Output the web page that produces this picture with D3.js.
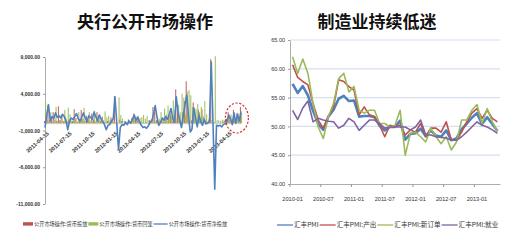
<!DOCTYPE html>
<html>
<head>
<meta charset="utf-8">
<script src="https://cdn.jsdelivr.net/npm/d3@7"></script>
<style>
  body { margin: 0; background: #fff; }
  svg { display: block; }
  text { font-family: "Liberation Sans", Arial, sans-serif; fill: #333; }
  .title { font-family: "Noto Sans CJK SC", sans-serif; font-weight: bold; font-size: 17px; fill: #111; }
  .legend text { font-family: "Noto Sans CJK SC", sans-serif; }
</style>
</head>
<body>
<svg id="chart" width="510" height="241"></svg>
<script>
// ---- left chart: weekly open market operations (亿元), first week 2011-04-15
const omoStart = "2011-04-15";
const omoInjection = [
  300, 800, 2500, 400, 600, 1500, 500, 300, 2300, 400, 1000, 300, 800, 200, 400, 600, 300, 1900, 700, 200,
  500, 1800, 600, 300, 1000, 400, 300, 1300, 500, 200, 1500, 400, 300, 900, 200, 100, 300, 200, 800,
  600, 3700, 0, 0, 500, 300,
  0, 300, 0, 500, 0, 700, 1300, 500, 900, 300, 200, 100, 0, 200, 0, 400,
  500, 2200, 1500, 400, 0, 200, 300, 200, 600, 300, 800, 1200, 300, 1000, 4600, 2000, 500, 300, 1500, 3000,
  5700, 1500, 200, 400, 2800, 1200, 300, 1800, 600, 1900, 800, 200, 200,
  500, 8700, 0, 100, 0,
  0, 0, 0, 200, 300, 600, 1500, 900, 300, 1800, 500, 1400, 800, 2200
];
const omoWithdrawal = [
  2900, 400, 300, 1500, 200, 300, 2200, 300, 400, 1200, 200, 1800, 300, 2100, 1200, 300, 800, 400, 200, 1500,
  300, 600, 2100, 300, 500, 1500, 400, 300, 1700, 400, 500, 1200, 300, 400, 1600, 800, 1000, 500, 400,
  200, 100, 0, 3500, 1100, 600,
  300, 200, 200, 200, 0, 600, 900, 400, 1000, 700, 800, 1100, 600, 1000, 400, 300,
  300, 600, 200, 300, 600, 1500, 800, 2000, 1200, 2400, 1500, 900, 3100, 1800, 600, 2500, 1500, 4000, 3500, 1200,
  4300, 4500, 3800, 2200, 1200, 2000, 2600, 1500, 2200, 1000, 3000, 1200, 300,
  300, 400, 0, 9100, 400,
  400, 300, 500, 400, 400, 300, 400, 1200, 600, 1000, 500, 1300, 700, 1400
];
const omoNet = [
  -600, 1200, 2500, 300, 900, 600, 1400, 800, 1000, 700, 1200, 900, 400, -900, 300, 700, 500, 900, 1300, 600,
  300, 800, 1400, 700, 200, 1000, 800, 500, 1500, 900, 300, 1100, 600, 200, -200, -900, -300, -200, 300,
  600, 3600, 0, -3600, -600, -200,
  -300, 100, -200, 300, 0, 600, 1100, 400, 800, 200, -300, -600, -500, -700, -400, 100,
  300, 1200, 2400, 800, -300, 100, 700, 400, 900, 500, 1200, 2000, 600, 100, 3600, 1500, 400, -600, 1000, 2500,
  3800, 1000, -1200, -800, 2100, 800, -500, 1100, 200, -300, 500, -100, 0,
  200, 8300, 0, -9000, -300,
  -400, -300, -500, -200, -100, 300, 1100, 600, -200, 1400, 0, 1200, 300, 1600
];
const omoTickLabels = ["2011-04-15", "2011-07-15", "2011-10-15", "2012-01-15", "2012-04-15",
  "2012-07-15", "2012-10-15", "2013-01-15", "2013-04-15"];
const omoYTicks = [-11000, -6000, -1000, 4000, 9000];
const omoLegend = ["公开市场操作:货币投放", "公开市场操作:货币回笼", "公开市场操作:货币净投放"];

// ---- right chart: HSBC manufacturing PMI, monthly
const pmiMonths = [
  "2010-01", "2010-02", "2010-03", "2010-04", "2010-05", "2010-06", "2010-07", "2010-08", "2010-09", "2010-10", "2010-11", "2010-12",
  "2011-01", "2011-02", "2011-03", "2011-04", "2011-05", "2011-06", "2011-07", "2011-08", "2011-09", "2011-10", "2011-11", "2011-12",
  "2012-01", "2012-02", "2012-03", "2012-04", "2012-05", "2012-06", "2012-07", "2012-08", "2012-09", "2012-10", "2012-11", "2012-12",
  "2013-01", "2013-02", "2013-03", "2013-04", "2013-05"
];
const pmiHeadline = [57.4, 55.8, 57.0, 55.4, 52.7, 50.4, 49.4, 51.7, 52.9, 54.8, 55.3, 54.4, 54.5, 51.7, 51.8, 51.8, 51.6, 50.1, 49.3, 49.9,
  49.9, 51.0, 47.7, 48.7, 48.8, 49.6, 48.3, 49.3, 48.4, 48.2, 49.3, 47.6, 47.9, 49.5, 50.5, 51.5, 52.3, 50.4, 51.6, 50.4, 49.2];
const pmiOutput = [60.7, 58.5, 57.8, 57.2, 54.0, 51.1, 49.7, 51.7, 53.4, 58.1, 57.8, 56.9, 56.3, 52.0, 53.4, 52.0, 51.7, 50.2, 48.2, 50.2,
  50.0, 50.2, 48.5, 49.4, 49.0, 50.5, 48.2, 49.7, 49.7, 49.0, 50.8, 47.6, 47.6, 49.0, 50.8, 52.3, 53.1, 51.4, 52.8, 51.4, 50.8];
const pmiNewOrders = [62.1, 59.2, 61.7, 59.2, 54.0, 49.9, 47.9, 51.7, 54.0, 58.3, 59.2, 56.0, 56.9, 52.8, 52.3, 52.8, 52.8, 50.5, 50.5, 49.9,
  50.2, 52.8, 45.0, 48.8, 49.0, 48.2, 47.3, 49.7, 48.2, 47.0, 48.2, 45.9, 47.3, 51.1, 51.1, 52.8, 53.8, 50.5, 53.1, 50.8, 49.1];
const pmiEmployment = [52.8, 51.2, 53.2, 54.4, 50.8, 51.4, 51.1, 50.9, 50.8, 49.7, 50.2, 51.4, 50.8, 49.3, 50.2, 51.1, 51.1, 50.5, 49.7, 49.9,
  49.9, 49.9, 49.9, 49.4, 49.9, 51.1, 48.5, 48.5, 48.2, 48.1, 48.0, 47.6, 47.6, 48.2, 49.0, 49.9, 50.8, 50.2, 49.9, 49.4, 48.8];
const pmiYTicks = [40, 45, 50, 55, 60, 65];
const pmiLegend = ["汇丰PMI", "汇丰PMI:产出", "汇丰PMI:新订单", "汇丰PMI:就业"];

const BLUE = "#4F81BD", RED = "#C0504D", GREEN = "#9BBB59", PURPLE = "#8064A2";
const svg = d3.select("#chart");
const parseDay = d3.timeParse("%Y-%m-%d");
const fmtTick = f => d => f(d).replace("\u2212", "-");

function layoutLegend(g, items, x0, y, fontSize, lineLen) {
  let x = x0;
  items.forEach(it => {
    if (it.type === "rect") {
      g.append("rect").attr("x", x).attr("y", y - 1.8).attr("width", 10).attr("height", 3.4).attr("fill", it.color);
      x += 11;
    } else {
      g.append("line").attr("x1", x).attr("x2", x + lineLen).attr("y1", y).attr("y2", y)
        .attr("stroke", it.color).attr("stroke-width", 1.3);
      x += lineLen + 1;
    }
    const t = g.append("text").attr("x", x).attr("y", y).attr("dy", "0.35em")
      .style("font-size", fontSize + "px").text(it.label);
    x += t.node().getComputedTextLength() + 1;
  });
}

// ================= left chart =================
(function drawOmo() {
  const weeks = omoNet.map((_, i) => d3.timeWeek.offset(parseDay(omoStart), i));
  const x = d3.scaleTime().domain([weeks[0], weeks[weeks.length - 1]]).range([45, 241]);
  const y = d3.scaleLinear().domain([-11000, 9000]).range([204, 57]);
  const g = svg.append("g");

  g.append("text").attr("class", "title").attr("x", 145).attr("y", 28)
    .attr("text-anchor", "middle").text("央行公开市场操作");

  // zero axis with rotated date labels
  const xAxis = g.append("g").attr("transform", `translate(0,${y(0)})`)
    .call(d3.axisBottom(x).tickValues(omoTickLabels.map(parseDay))
      .tickFormat(d3.timeFormat("%Y-%m-%d")).tickSize(0).tickSizeOuter(0));
  xAxis.select(".domain").attr("stroke", "#bbb").attr("stroke-width", 0.7);
  xAxis.selectAll("text")
    .attr("y", 0).attr("dy", "0.35em")
    .attr("text-anchor", "end")
    .attr("transform", "translate(2.5,9.5) rotate(-42)")
    .style("font-size", "5.6px").style("font-weight", "bold").attr("fill", "#444");

  const yAxis = g.append("g").attr("transform", "translate(45,0)")
    .call(d3.axisLeft(y).tickValues(omoYTicks).tickFormat(fmtTick(d3.format(",.2f")))
      .tickSize(2).tickPadding(3).tickSizeOuter(0));
  yAxis.select(".domain").attr("stroke", "#999").attr("stroke-width", 0.8);
  yAxis.selectAll(".tick line").attr("stroke", "#999");
  yAxis.selectAll("text").style("font-size", "5px").style("font-weight", "bold").attr("fill", "#444");

  const bw = 1.1;
  g.append("g").selectAll("rect").data(omoInjection).join("rect")
    .attr("x", (d, i) => x(weeks[i]) - bw).attr("width", bw)
    .attr("y", d => y(d)).attr("height", d => y(0) - y(d))
    .attr("fill", RED).attr("opacity", 0.85);
  g.append("g").selectAll("rect").data(omoWithdrawal).join("rect")
    .attr("x", (d, i) => x(weeks[i])).attr("width", bw)
    .attr("y", d => y(d)).attr("height", d => y(0) - y(d))
    .attr("fill", GREEN).attr("opacity", 0.9);

  g.append("path").datum(omoNet)
    .attr("fill", "none").attr("stroke", BLUE).attr("stroke-width", 1.6).attr("stroke-linejoin", "round")
    .attr("d", d3.line().x((d, i) => x(weeks[i])).y(d => y(d)));

  // highlight of the latest weeks
  const recent = weeks.slice(-8);
  g.append("ellipse")
    .attr("cx", (x(recent[0]) + x(recent[recent.length - 1])) / 2 + 2)
    .attr("cy", y(700)).attr("rx", 11.5).attr("ry", 15)
    .attr("fill", "none").attr("stroke", "#D0312D").attr("stroke-width", 1.2).attr("stroke-dasharray", "2.2,1.6");

  const lg = g.append("g").attr("class", "legend");
  layoutLegend(lg, [
    { type: "rect", color: RED, label: omoLegend[0] },
    { type: "rect", color: GREEN, label: omoLegend[1] },
    { type: "line", color: BLUE, label: omoLegend[2] }
  ], 23, 224, 5.2, 14);
})();

// ================= right chart =================
(function drawPmi() {
  const x = d3.scaleBand().domain(pmiMonths).range([290, 500]).padding(0);
  const y = d3.scaleLinear().domain([40, 65]).range([184, 40]);
  const g = svg.append("g");

  g.append("text").attr("class", "title").attr("x", 377).attr("y", 28)
    .attr("text-anchor", "middle").text("制造业持续低迷");

  g.append("g").selectAll("line").data(pmiYTicks.slice(1)).join("line")
    .attr("x1", 290).attr("x2", 500).attr("y1", d => y(d)).attr("y2", d => y(d))
    .attr("stroke", "#D6E0EF").attr("stroke-width", 1.2);

  const yAxis = g.append("g").attr("transform", "translate(290,0)")
    .call(d3.axisLeft(y).tickValues(pmiYTicks).tickFormat(d3.format(".2f"))
      .tickSize(2).tickPadding(3).tickSizeOuter(0));
  yAxis.select(".domain").attr("stroke", "#999").attr("stroke-width", 0.8);
  yAxis.selectAll(".tick line").attr("stroke", "#999");
  yAxis.selectAll("text").style("font-size", "5.5px").attr("fill", "#444");

  const labelled = pmiMonths.filter((m, i) => i % 6 === 0);
  const xAxis = g.append("g").attr("transform", "translate(0,184)")
    .call(d3.axisBottom(x).tickValues(labelled).tickSize(0).tickPadding(13).tickSizeOuter(0));
  xAxis.select(".domain").attr("stroke", "#999").attr("stroke-width", 0.8);
  xAxis.selectAll("text").style("font-size", "5.6px").attr("fill", "#444");
  xAxis.selectAll(".tick").append("line")
    .attr("x1", -x.bandwidth() / 2).attr("x2", -x.bandwidth() / 2)
    .attr("y1", 0).attr("y2", 3).attr("stroke", "#999");

  const line = d3.line().x((d, i) => x(pmiMonths[i]) + x.bandwidth() / 2).y(d => y(d));
  [
    { data: pmiHeadline, color: BLUE, w: 2.6 },
    { data: pmiOutput, color: RED, w: 1.6 },
    { data: pmiNewOrders, color: GREEN, w: 1.6 },
    { data: pmiEmployment, color: PURPLE, w: 1.6 }
  ].forEach(s => {
    g.append("path").datum(s.data)
      .attr("fill", "none").attr("stroke", s.color).attr("stroke-width", s.w)
      .attr("stroke-linejoin", "round").attr("d", line);
  });

  const lg = g.append("g").attr("class", "legend");
  layoutLegend(lg, [
    { type: "line", color: BLUE, label: pmiLegend[0] },
    { type: "line", color: RED, label: pmiLegend[1] },
    { type: "line", color: GREEN, label: pmiLegend[2] },
    { type: "line", color: PURPLE, label: pmiLegend[3] }
  ], 277, 225, 6.6, 16);
})();
</script>
</body>
</html>
